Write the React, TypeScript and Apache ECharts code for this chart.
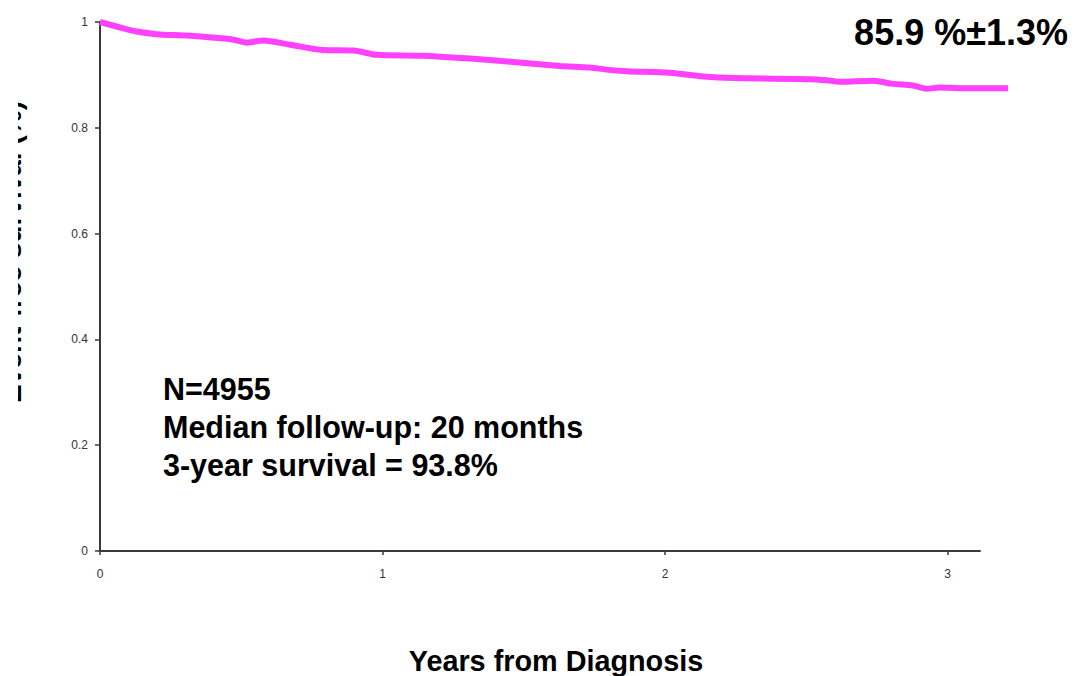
import React, { useEffect, useRef } from "react";
import * as echarts from "echarts";

const years = [0, 0.083, 0.13, 0.2, 0.32, 0.47, 0.52, 0.578, 0.673, 0.79, 0.897, 0.98, 1.144, 1.38, 1.628, 1.735, 1.793, 1.864, 2.018, 2.136, 2.242, 2.513, 2.572, 2.62, 2.737, 2.808, 2.878, 2.926, 2.973, 3.044, 3.215];
const survival = [1.0, 0.988, 0.982, 0.977, 0.974, 0.967, 0.961, 0.965, 0.957, 0.947, 0.946, 0.938, 0.936, 0.928, 0.917, 0.914, 0.91, 0.907, 0.904, 0.897, 0.894, 0.892, 0.89, 0.887, 0.889, 0.883, 0.88, 0.874, 0.876, 0.875, 0.875];
const xTicks = [0, 1, 2, 3];
const yTicks = [0, 0.2, 0.4, 0.6, 0.8, 1];
const topRightText = "85.9 %\u00b11.3%";
const annotationLines = ["N=4955", "Median follow-up: 20 months", "3-year survival = 93.8%"];
const xTitle = "Years from Diagnosis";
const yTitle = "Event-free survival (%)";

const FONT = "'Liberation Sans', Arial, sans-serif";
const AXIS_COLOR = "#3a3a3a";

export default function App() {
  const ref = useRef<HTMLDivElement>(null);
  useEffect(() => {
    if (!ref.current) return;
    const chart = echarts.init(ref.current, null, { renderer: "svg" });
    const data = years.map((x, i) => [x, survival[i]]);
    chart.setOption({
      animation: false,
      backgroundColor: "#ffffff",
      grid: [
        { left: 100, top: 22, right: 69, bottom: 125, containLabel: false },
        { left: 100, top: 22, right: 97, bottom: 125, containLabel: false },
      ],
      xAxis: [
        {
          type: "value",
          gridIndex: 0,
          min: 0,
          max: 3.215,
          show: false,
        },
        {
          type: "value",
          gridIndex: 1,
          min: 0,
          max: 3.115,
          interval: 1,
          axisLine: { show: true, lineStyle: { color: AXIS_COLOR, width: 2 } },
          axisTick: { show: true, length: 4, lineStyle: { color: AXIS_COLOR, width: 1.5 } },
          axisLabel: {
            margin: 17,
            color: "#333",
            fontFamily: FONT,
            fontSize: 12,
            formatter: (v: number) => (xTicks.includes(v) ? String(v) : ""),
            showMaxLabel: false,
          },
          splitLine: { show: false },
        },
      ],
      yAxis: [
        {
          type: "value",
          gridIndex: 0,
          min: 0,
          max: 1,
          show: false,
        },
        {
          type: "value",
          gridIndex: 1,
          min: 0,
          max: 1,
          interval: 0.2,
          axisLine: { show: true, lineStyle: { color: AXIS_COLOR, width: 2 } },
          axisTick: { show: true, length: 5, lineStyle: { color: AXIS_COLOR, width: 1.5 } },
          axisLabel: {
            margin: 12,
            color: "#333",
            fontFamily: FONT,
            fontSize: 12,
            formatter: (v: number) => {
              const t = yTicks.find((k) => Math.abs(k - v) < 1e-6);
              return t === undefined ? "" : String(Number(t.toFixed(1)));
            },
          },
          splitLine: { show: false },
        },
      ],
      series: [
        {
          type: "line",
          xAxisIndex: 0,
          yAxisIndex: 0,
          data,
          clip: false,
          smooth: 0.3,
          showSymbol: false,
          symbol: "none",
          lineStyle: { color: "#ff40ff", width: 6 },
          z: 3,
        },
      ],
      graphic: [
        {
          type: "text",
          x: 25,
          y: 252,
          rotation: Math.PI / 2,
          z: 0,
          style: {
            text: yTitle,
            fill: "#000",
            font: `bold 28px ${FONT}`,
            textAlign: "center",
            textVerticalAlign: "bottom",
          },
        },
        {
          type: "rect",
          z: 100,
          shape: { x: 0, y: 60, width: 18, height: 380 },
          style: { fill: "#ffffff" },
        },
        {
          type: "text",
          x: 1068,
          y: 32,
          style: {
            text: topRightText,
            fill: "#000",
            font: `bold 36px ${FONT}`,
            textAlign: "right",
            textVerticalAlign: "middle",
          },
        },
        ...annotationLines.map((t, i) => ({
          type: "text",
          x: 163,
          y: 389 + i * 38,
          style: {
            text: t,
            fill: "#000",
            font: `bold 30.5px ${FONT}`,
            textAlign: "left",
            textVerticalAlign: "middle",
          },
        })),
        {
          type: "text",
          x: 556,
          y: 661,
          style: {
            text: xTitle,
            fill: "#000",
            font: `bold 28.8px ${FONT}`,
            textAlign: "center",
            textVerticalAlign: "middle",
          },
        },
      ],
    });
    return () => chart.dispose();
  }, []);
  return (
    <div
      ref={ref}
      style={{ position: "fixed", left: 0, top: 0, width: 1077, height: 676, background: "#fff" }}
    />
  );
}
